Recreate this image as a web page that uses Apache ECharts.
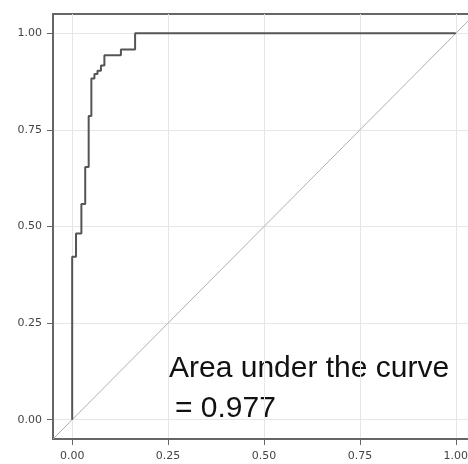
<!DOCTYPE html>
<html>
<head>
<meta charset="utf-8">
<script src="https://cdn.jsdelivr.net/npm/echarts@6/dist/echarts.min.js"></script>
<style>html,body{margin:0;padding:0;background:#fff;overflow:hidden}#c{width:476px;height:464px}</style>
</head>
<body>
<div id="c"></div>
<script>
// ROC step curve (false positive rate, true positive rate)
var fpr = [0, 0, 0.010, 0.010, 0.024, 0.024, 0.034, 0.034, 0.043, 0.043, 0.050, 0.050, 0.058, 0.058, 0.066, 0.066, 0.075, 0.075, 0.084, 0.084, 0.127, 0.127, 0.164, 0.164, 1.0];
var tpr = [0, 0.422, 0.422, 0.482, 0.482, 0.558, 0.558, 0.654, 0.654, 0.786, 0.786, 0.883, 0.883, 0.895, 0.895, 0.903, 0.903, 0.917, 0.917, 0.943, 0.943, 0.958, 0.958, 1.0, 1.0];
// reference diagonal across the panel
var diagX = [-0.05, 1.05];
var diagY = [-0.05, 1.05];
var tickValues = [0, 0.25, 0.5, 0.75, 1.0];
var aucLine1 = 'Area under the curve';
var aucLine2 = '= 0.977';

var rocData = fpr.map(function (x, i) { return [x, tpr[i]]; });
var diagData = diagX.map(function (x, i) { return [x, diagY[i]]; });

var chart = echarts.init(document.getElementById('c'), null, {renderer: 'canvas'});
var labelStyle = {color: '#444', fontFamily: 'DejaVu Sans', fontSize: 11,
  formatter: function (v) { return v.toFixed(2); }};
function axisCommon(margin) {
  return {
    type: 'value', min: -0.05, max: 1.05, interval: 0.25,
    axisLine: {show: true, onZero: false, lineStyle: {color: '#666', width: 2}},
    axisTick: {show: true, length: 6, lineStyle: {color: '#666', width: 1}, customValues: tickValues},
    splitLine: {show: true, lineStyle: {color: '#e6e6e6', width: 1}},
    axisLabel: Object.assign({customValues: tickValues, margin: margin}, labelStyle)
  };
}
chart.setOption({
  animation: false,
  backgroundColor: '#fff',
  grid: {left: 53, top: 14, right: 1, bottom: 25, show: true, borderColor: '#666', borderWidth: 2, containLabel: false},
  xAxis: axisCommon(12),
  yAxis: axisCommon(11),
  series: [
    {type: 'line', data: diagData, symbol: 'none', lineStyle: {color: '#b0b0b0', width: 1}, z: 2},
    {type: 'line', data: rocData, symbol: 'none', lineStyle: {color: '#555', width: 2}, z: 3}
  ],
  graphic: [
    {type: 'text', left: 169, top: 354, style: {text: aucLine1, fontFamily: 'Liberation Sans', fontSize: 30, fill: '#111'}},
    {type: 'text', left: 175, top: 394, style: {text: aucLine2, fontFamily: 'Liberation Sans', fontSize: 30, fill: '#111'}}
  ]
});
</script>
</body>
</html>
